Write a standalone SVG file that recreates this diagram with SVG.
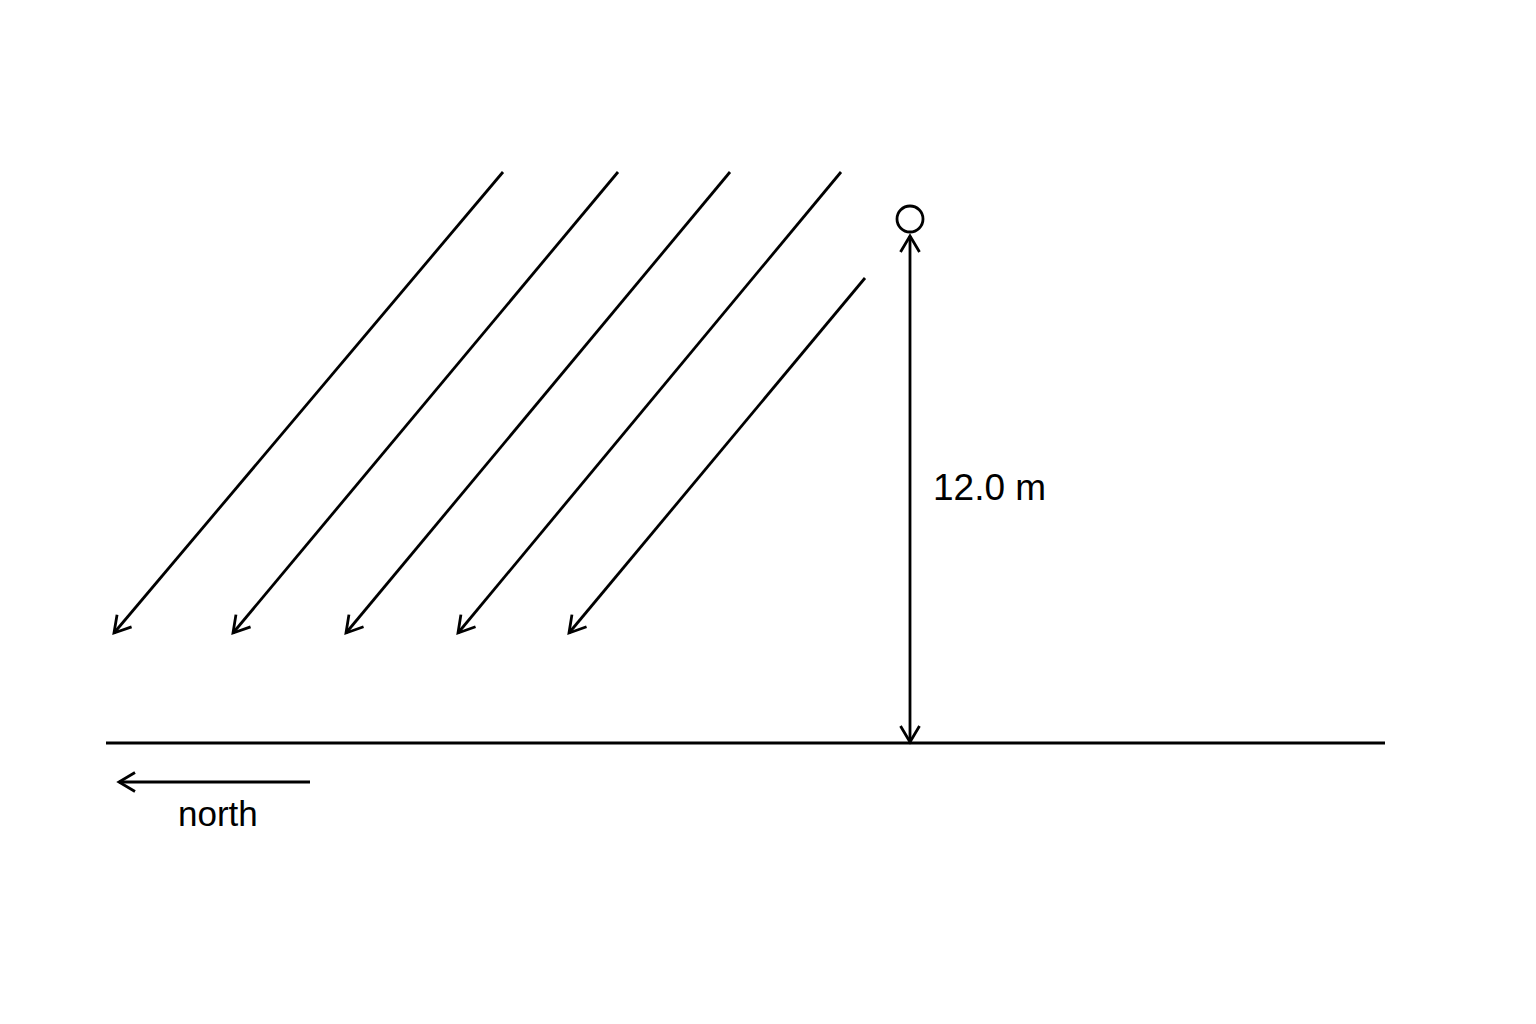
<svg xmlns="http://www.w3.org/2000/svg" width="1536" height="1024" viewBox="0 0 1536 1024">
<style>
.ln{stroke:#000;stroke-width:2.8;fill:none}
.t{font-family:"Liberation Sans",Arial,sans-serif;fill:#000}
</style>
<defs>
<marker id="ah" markerUnits="userSpaceOnUse" markerWidth="30" markerHeight="30" refX="21" refY="15" viewBox="0 0 30 30" orient="auto-start-reverse">
<path d="M5,5.5 L21,15 L5,24.5" fill="none" stroke="#000" stroke-width="2.8"/>
</marker>
</defs>
<rect width="1536" height="1024" fill="#fff"/>
<g id="rays">
<line class="ln" x1="503" y1="172" x2="114" y2="633" marker-end="url(#ah)"/>
<line class="ln" x1="618" y1="172" x2="233" y2="633" marker-end="url(#ah)"/>
<line class="ln" x1="730" y1="172" x2="346" y2="633" marker-end="url(#ah)"/>
<line class="ln" x1="841" y1="172" x2="458" y2="633" marker-end="url(#ah)"/>
<line class="ln" x1="865" y1="278" x2="569" y2="633" marker-end="url(#ah)"/>
</g>
<g id="ground">
<line class="ln" x1="106" y1="743" x2="1385" y2="743"/>
</g>
<g id="lamp">
<circle cx="910" cy="219" r="13" class="ln"/>
</g>
<g id="height">
<line class="ln" x1="910" y1="236" x2="910" y2="742" marker-start="url(#ah)" marker-end="url(#ah)"/>
<text class="t" x="933" y="500" font-size="37">12.0 m</text>
</g>
<g id="north">
<line class="ln" x1="310" y1="782" x2="119" y2="782" marker-end="url(#ah)"/>
<text class="t" x="178" y="826" font-size="35">north</text>
</g>
</svg>
